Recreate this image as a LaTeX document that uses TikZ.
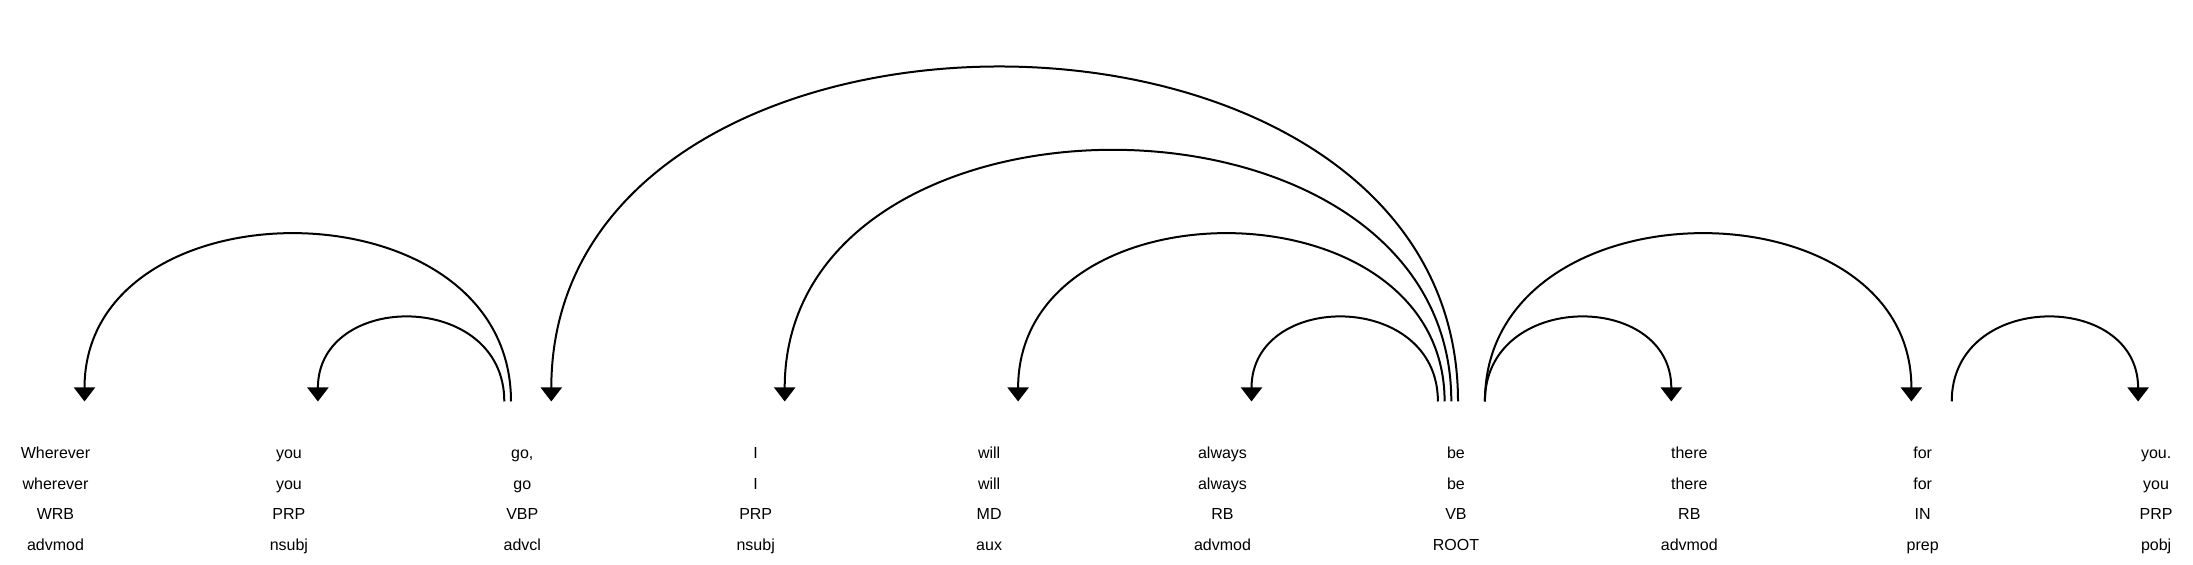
\documentclass[tikz,border=0pt]{standalone}
\usepackage{fontspec}
\setmainfont{Liberation Sans}
\usetikzlibrary{arrows.meta,calc}

\begin{document}
\begin{tikzpicture}[x=0.5pt,y=0.5pt,
  tok/.style={anchor=base,inner sep=0pt,font=\fontsize{8}{9}\selectfont},
  dep/.style={line width=1pt,-{Triangle[width=10.5pt,length=7pt]}}]
\def\base{163.5}
\def\lev{111.1}
\useasboundingbox (0,0) rectangle (2193,565);
\foreach \w/\l/\t/\d [count=\i from 0] in {Wherever/wherever/WRB/advmod, you/you/PRP/nsubj, {go,}/go/VBP/advcl, I/I/PRP/nsubj, will/will/MD/aux, always/always/RB/advmod, be/be/VB/ROOT, there/there/RB/advmod, for/for/IN/prep, you./you/PRP/pobj} {
  \node[tok] (w\i) at ({55.5+233.4*\i},106) {\w};
  \node[tok] (l\i) at ({55.5+233.4*\i},75.5) {\l};
  \node[tok] (t\i) at ({55.5+233.4*\i},45) {\t};
  \node[tok] (d\i) at ({55.5+233.4*\i},14.5) {\d};
  \foreach \k in {0,...,3}
    \coordinate (a\i\k) at ({55.5+233.4*\i-18+6.7*\k},\base);
  \coordinate (r\i) at ({55.5+233.4*\i+29},\base);
}
\foreach \a/\b/\n in {a21/r0/2, a20/r1/1, a63/r2/4, a62/r3/3, a61/r4/2, a60/r5/1, r6/a70/1, r6/a81/2, r8/a90/1}
  \draw[dep] (\a) .. controls +(0,\n*\lev) and +(0,\n*\lev) .. (\b);
\end{tikzpicture}
\end{document}
